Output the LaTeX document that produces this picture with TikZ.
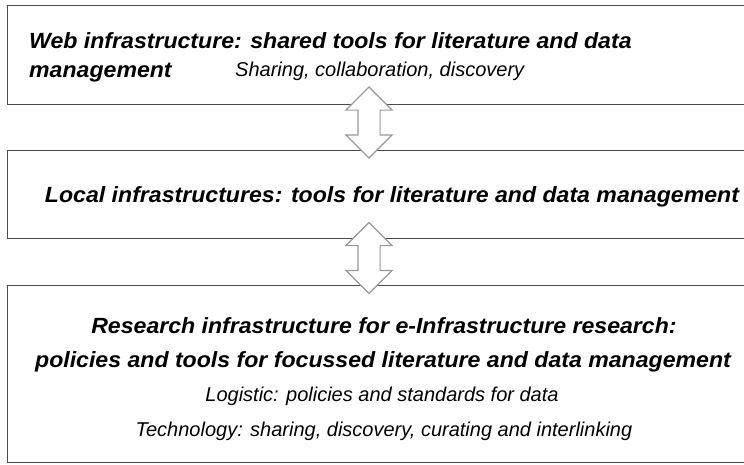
\documentclass[tikz,border=0pt]{standalone}
\usepackage{fontspec}
\setmainfont{Liberation Sans}
\usetikzlibrary{shapes.arrows}

\begin{document}
\begin{tikzpicture}[x=1pt,y=-1pt,
	layer/.style={draw=gray!60!black,line width=1.3pt,rectangle,anchor=north west,inner sep=0pt},
	link/.style={draw=gray!80,fill=white,line width=1.2pt,double arrow,rotate=90,
		inner xsep=0pt,inner ysep=10.5pt,double arrow head extend=12pt,minimum height=71pt},
	title/.style={font=\fontsize{22}{26}\selectfont\bfseries\itshape,inner sep=0pt,xscale=1.05,transform shape},
	note/.style={font=\fontsize{20}{24}\selectfont\itshape,inner sep=0pt}]
	\useasboundingbox (0,0) rectangle (744,464);
	\clip (0,0) rectangle (744,464);
	\node[layer,minimum width=800pt,minimum height=99pt] (web) at (6.5,5) {};
	\node[layer,minimum width=800pt,minimum height=88pt] (local) at (6.5,150) {};
	\node[layer,minimum width=800pt,minimum height=177pt] (research) at (6.5,285) {};
	\node[link] (a1) at (369,122.5) {};
	\node[link] (a2) at (369,258) {};
	\node[title,anchor=west] (w1) at (29,41) {Web infrastructure: shared tools for literature and data};
	\node[title,anchor=west] (w2) at (29,73) {management};
	\node[note,anchor=west] (w3) at (235,71) {Sharing, collaboration, discovery};
	\node[title] (l1) at (392,197) {Local infrastructures: tools for literature and data management};
	\node[title] (r1) at (384,326) {Research infrastructure for e-Infrastructure research:};
	\node[title] (r2) at (383,362) {policies and tools for focussed literature and data management};
	\node[note] (r3) at (382,396) {Logistic: policies and standards for data};
	\node[note] (r4) at (384,431) {Technology: sharing, discovery, curating and interlinking};
\end{tikzpicture}
\end{document}
